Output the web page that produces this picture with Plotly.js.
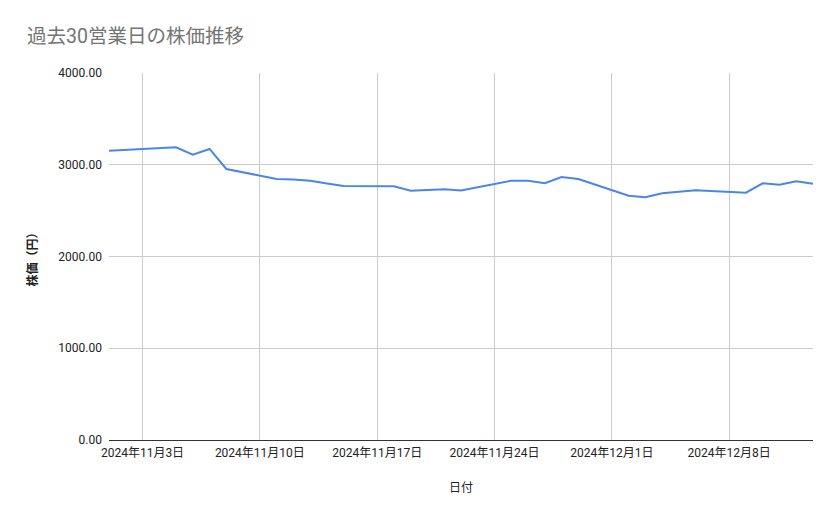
<!DOCTYPE html>
<html>
<head>
<meta charset="utf-8">
<script src="https://cdn.plot.ly/plotly-3.0.1.min.js"></script>
<style>
  html, body { margin: 0; padding: 0; background: #fff; }
  #chart { width: 839px; height: 519px; }
</style>
</head>
<body>
<div id="chart"></div>
<script>
// 過去30営業日の株価
const dates = [
    '2024-11-01', '2024-11-05', '2024-11-06', '2024-11-07', '2024-11-08',
    '2024-11-11', '2024-11-12', '2024-11-13', '2024-11-14', '2024-11-15',
    '2024-11-18', '2024-11-19', '2024-11-20', '2024-11-21', '2024-11-22',
    '2024-11-25', '2024-11-26', '2024-11-27', '2024-11-28', '2024-11-29',
    '2024-12-02', '2024-12-03', '2024-12-04', '2024-12-05', '2024-12-06',
    '2024-12-09', '2024-12-10', '2024-12-11', '2024-12-12', '2024-12-13',
];
const prices = [
    3153, 3190, 3110, 3172, 2954,
    2845, 2840, 2826, 2796, 2768,
    2765, 2717, 2725, 2732, 2720,
    2826, 2826, 2798, 2866, 2845,
    2663, 2645, 2689, 2703, 2721,
    2695, 2798, 2783, 2820, 2794,
];

const FONT = 'Roboto, "Noto Sans CJK JP", "Noto Sans", sans-serif';
const GRID = '#cccccc';

const trace = {
    x: dates,
    y: prices,
    type: 'scatter',
    mode: 'lines',
    line: { color: '#4a86e8', width: 2 },
    hoverinfo: 'x+y',
};

const layout = {
    width: 839,
    height: 519,
    paper_bgcolor: '#ffffff',
    plot_bgcolor: '#ffffff',
    font: { family: FONT, color: '#222222', size: 12 },
    showlegend: false,
    margin: { l: 109, r: 26, t: 73, b: 79 },
    title: {
        text: '過去30営業日の株価推移',
        font: { family: FONT, size: 19.5, color: '#757575' },
        x: 0, xref: 'paper', xanchor: 'left',
        y: 38, yref: 'container', yanchor: 'middle',
        pad: { l: -82 },
    },
    xaxis: {
        type: 'date',
        range: ['2024-11-01', '2024-12-13'],
        tick0: '2024-11-03',
        dtick: 7 * 24 * 3600 * 1000,
        tickformat: '%Y年%-m月%-d日',
        showgrid: true,
        gridcolor: GRID,
        gridwidth: 1,
        zeroline: false,
        showline: false,
        ticks: '',
        ticklabelstandoff: 4,
        tickfont: { size: 12, color: '#222222' },
        title: { text: '日付', font: { size: 12, color: '#222222' }, standoff: 24 },
    },
    yaxis: {
        range: [0, 4000],
        dtick: 1000,
        tickformat: '.2f',
        showgrid: true,
        gridcolor: GRID,
        gridwidth: 1,
        zeroline: true,
        zerolinecolor: '#333333',
        zerolinewidth: 1,
        showline: false,
        ticks: '',
        ticklabelstandoff: 6,
        tickfont: { size: 12, color: '#222222' },
        title: { text: '<b>株価（円）</b>', font: { size: 12, color: '#222222' }, standoff: 18 },
    },
};

Plotly.newPlot('chart', [trace], layout, { displayModeBar: false, staticPlot: true });
</script>
</body>
</html>
